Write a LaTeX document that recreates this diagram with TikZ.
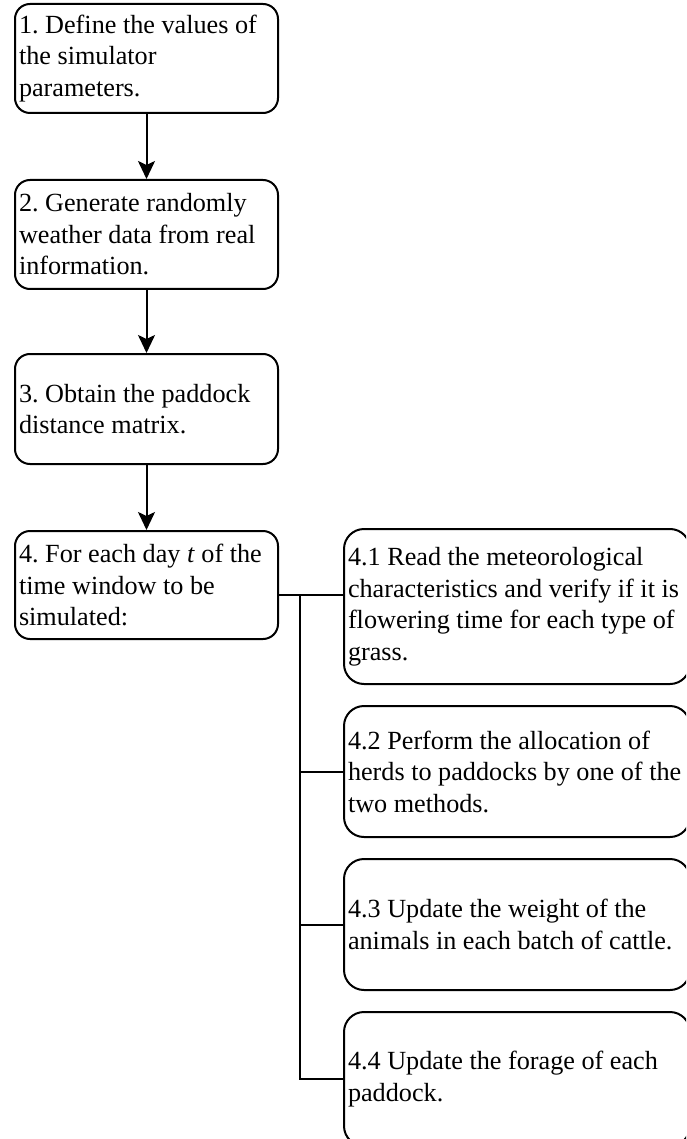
\documentclass[tikz,border=0pt]{standalone}
\usepackage{fontspec}
\setmainfont{Liberation Serif}
\usetikzlibrary{arrows.meta}
\begin{document}
\begin{tikzpicture}[x=1pt,y=-1pt,
  every node/.style={font=\fontsize{26.2}{31.5}\selectfont\frenchspacing},
  lbox/.style={draw,line width=2pt,rectangle,rounded corners=15pt,anchor=north west,
    text width=255pt,minimum width=263pt,minimum height=109pt,inner xsep=4pt,inner ysep=0pt,align=flush left},
  rbox/.style={draw,line width=2pt,rectangle,rounded corners=20pt,anchor=north west,
    text width=338pt,minimum width=346pt,inner xsep=4pt,inner ysep=0pt,align=flush left},
  flow/.style={line width=2pt,-{Stealth[length=18pt,width=17pt,inset=4pt]}},
  link/.style={line width=2pt}]
\useasboundingbox (0,0) rectangle (686,1139);
\fill[white] (0,0) rectangle (686,1139);
\clip (0,0) rectangle (686,1139);
\node[lbox] (b1) at (14,3) {1. Define the values of\\the simulator\\parameters.};
\node[lbox] (b2) at (14,179) {2. Generate randomly\\weather data from real\\information.};
\node[lbox,minimum height=110pt] (b3) at (14,353) {3. Obtain the paddock\\distance matrix.};
\node[lbox,minimum height=108pt] (b4) at (14,530) {4. For each day \textit{t} of the\\time window to be\\simulated:};
\node[rbox,minimum height=155pt] (b41) at (343,528) {4.1 Read the meteorological\\characteristics and verify if it is\\flowering time for each type of\\grass.};
\node[rbox,minimum height=131pt] (b42) at (343,705) {4.2 Perform the allocation of\\herds to paddocks by one of the\\two methods.};
\node[rbox,minimum height=131pt] (b43) at (343,858) {4.3 Update the weight of the\\animals in each batch of cattle.};
\node[rbox,minimum height=134pt] (b44) at (343,1011) {4.4 Update the forage of each\\paddock.};
\draw[flow] (b1.south) -- (b2.north);
\draw[flow] (b2.south) -- (b3.north);
\draw[flow] (b3.south) -- (b4.north);
\coordinate (j1) at (300,595);
\coordinate (j2) at (j1 |- b42.west);
\coordinate (j3) at (j1 |- b43.west);
\coordinate (j4) at (j1 |- b44.west);
\draw[link] (b4.east |- j1) -- (b41.west |- j1);
\draw[link] (j1) -- (j4) -- (b44.west);
\draw[link] (j2) -- (b42.west);
\draw[link] (j3) -- (b43.west);
\end{tikzpicture}
\end{document}
